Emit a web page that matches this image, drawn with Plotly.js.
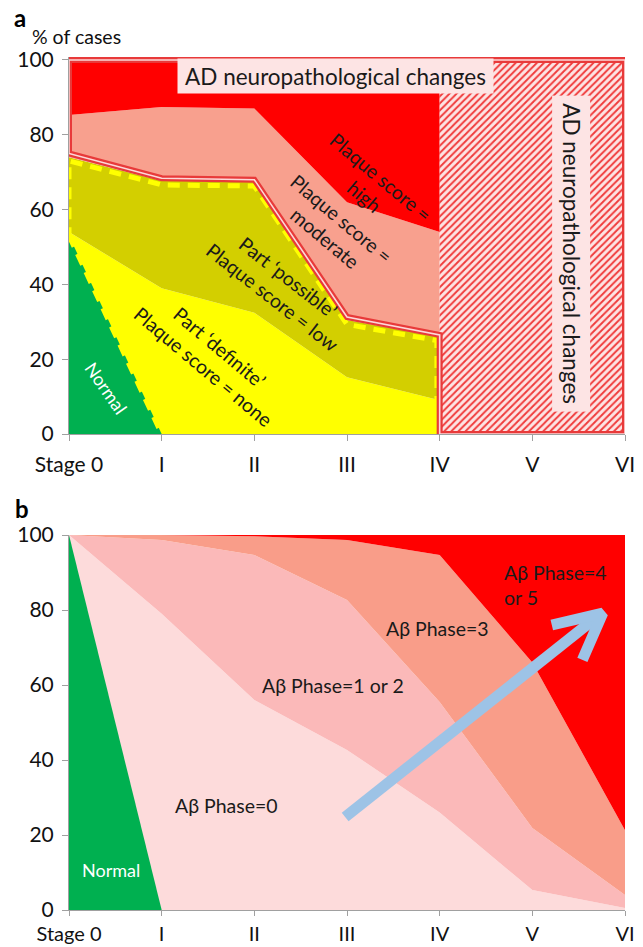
<!DOCTYPE html>
<html><head><meta charset="utf-8">
<script src="https://cdn.plot.ly/plotly-3.0.1.min.js"></script>
<style>html,body{margin:0;padding:0;background:#fff}#chart{width:643px;height:947px}</style>
</head><body><div id="chart"></div>
<script>
// ---- shared ----
const stages = ['Stage 0','I','II','III','IV','V','VI'];
const stageIdx = [0,1,2,3,4,5,6];

// ---- panel a (cumulative upper boundaries, % of cases) ----
const aX = [0,1,2,3,4];
const aNormalX = [0,1];
const aNormalY = [53,0];
const aDefiniteTop = [54,39,32.4,15.2,9];
const aPossibleTop = [74,67.7,67.5,30.5,26];
const aModerateTop = [85.3,87.4,87,62,54];
const aHighTop = [100,100,100,100,100];
const aHatchX = [4,6,6,4,4];
const aHatchY = [0,0,100,100,0];
const adOutlineX = [0,0,6,6,4,4,3,2,1,0];
const adOutlineY = [75,100,100,0,0,26.5,31.3,68,68.4,75];
const partOutlineX = [0,1,3.97,3.97,3,2,1,0,0];
const partOutlineY = [53,0,0,25,29.3,66.3,66.6,73,53];

// ---- panel b ----
const bX = [0,1,2,3,4,5,6];
const bNormalX = [0,1];
const bNormalY = [100,0];
const bPhase0Top = [100,79,56,42.7,26,5.3,0.5];
const bPhase12Top = [100,98.7,94.7,82.7,55.5,21.9,4];
const bPhase3Top = [100,100,99.7,98.7,94.7,66,21.3];
const bPhase45Top = [100,100,100,100,100,100,100];
const arrowShaftX = [2.98,5.72];
const arrowShaftY = [24.8,78.6];
const arrowHeadX = [5.21,5.76,5.54];
const arrowHeadY = [76,79.2,66.7];

const FONT = 'Lato, "Open Sans", sans-serif';
const TXT = '#1a1a1a';

function area(x,y,fill,color,xa,ya){
  return {x:x,y:y,type:'scatter',mode:'lines',fill:fill,fillcolor:color,
    line:{width:0,color:color},xaxis:xa,yaxis:ya,hoverinfo:'skip',showlegend:false};
}
function line(x,y,color,width,dash,xa,ya){
  return {x:x,y:y,type:'scatter',mode:'lines',line:{color:color,width:width,dash:dash||'solid'},
    xaxis:xa,yaxis:ya,hoverinfo:'skip',showlegend:false};
}

const traces = [
  area(aX,aDefiniteTop,'tozeroy','#ffff00','x','y'),
  area(aX,aPossibleTop,'tonexty','#d3cf00','x','y'),
  area(aX,aModerateTop,'tonexty','#f8a08e','x','y'),
  area(aX,aHighTop,'tonexty','#ff0000','x','y'),
  area(aNormalX,aNormalY,'tozeroy','#00b050','x','y'),
  {x:aHatchX,y:aHatchY,type:'scatter',mode:'lines',fill:'toself',fillcolor:'#fde4e4',
   fillpattern:{shape:'/',fgcolor:'#f03a3a',bgcolor:'#fde4e4',size:5,solidity:0.38},
   line:{width:0},xaxis:'x',yaxis:'y',hoverinfo:'skip',showlegend:false},
  line(partOutlineX,partOutlineY,'#ffff00',5,'12px,8px','x','y'),
  line(adOutlineX,adOutlineY,'#e83a3a',6,null,'x','y'),
  line(adOutlineX,adOutlineY,'#fcd8d8',1.6,null,'x','y'),

  area(bX,bPhase0Top,'tozeroy','#fddbdb','x2','y2'),
  area(bX,bPhase12Top,'tonexty','#fbb9b9','x2','y2'),
  area(bX,bPhase3Top,'tonexty','#f99d89','x2','y2'),
  area(bX,bPhase45Top,'tonexty','#ff0000','x2','y2'),
  area(bNormalX,bNormalY,'tozeroy','#00b050','x2','y2'),
  line(arrowShaftX,arrowShaftY,'#9dc3e6',11,null,'x2','y2'),
  line(arrowHeadX,arrowHeadY,'#9dc3e6',11,null,'x2','y2')
];

const xCommon = {range:[0,6],tickvals:stageIdx,ticktext:stages,showgrid:false,zeroline:false,
  showline:true,linecolor:'#a0a0a0',linewidth:1,ticks:'outside',ticklen:6,tickcolor:'#a0a0a0',
  ticklabelstandoff:6,
  tickfont:{family:FONT,size:21,color:'#111'},fixedrange:true};
const yCommon = {tickvals:[0,20,40,60,80,100],showgrid:false,zeroline:false,
  showline:true,linecolor:'#a0a0a0',linewidth:1,ticks:'outside',ticklen:6,tickcolor:'#a0a0a0',
  ticklabelstandoff:4,
  tickfont:{family:FONT,size:21,color:'#111'},fixedrange:true};

function ann(text,x,y,ref,angle,size,color,extra){
  return Object.assign({text:text,x:x,y:y,xref:ref[0],yref:ref[1],showarrow:false,
    xanchor:'center',yanchor:'middle',
    textangle:angle,align:'center',font:{family:FONT,size:size,color:color}},extra||{});
}
const A = ['x','y'], B = ['x2','y2'], P = ['paper','paper'];
const S = 19.5;

const annotations = [
  ann('a',-0.088,1.046,P,0,24,'#000',{font:{family:FONT,size:24,color:'#000',weight:'bold'}}),
  ann('b',-0.084,0.471,P,0,24,'#000',{font:{family:FONT,size:24,color:'#000',weight:'bold'}}),
  ann('% of cases',0.0126,1.024,P,0,19.5,'#111'),
  ann('AD neuropathological changes',2.88,95.7,A,0,22.5,TXT,{bgcolor:'#fde4e4',width:313,height:32,borderpad:1}),
  ann('AD neuropathological changes',5.42,48.3,A,90,22.5,TXT,{bgcolor:'#fde4e4',width:313,height:35,borderpad:1}),
  ann('Plaque score =<br>high',3.28,66,A,40,S,TXT),
  ann('Plaque score =<br>moderate',2.85,55.1,A,40,S,TXT),
  ann('Part ‘possible’<br>Plaque score = low',2.28,39.3,A,38,S,TXT),
  ann('Part ‘definite’<br>Plaque score = none',1.54,20.6,A,40,S,TXT),
  ann('Normal',0.40,12.3,A,55,18,'#ffffff'),

  ann('Aβ Phase=4<br>or 5',4.67,86.7,B,0,S,TXT,{xanchor:'left',align:'left'}),
  ann('Aβ Phase=3',3.98,75.2,B,0,S,TXT),
  ann('Aβ Phase=1 or 2',2.85,60,B,0,S,TXT),
  ann('Aβ Phase=0',1.70,28,B,0,S,TXT),
  ann('Normal',0.45,10.7,B,0,18,'#ffffff')
];

const layout = {
  width:643,height:947,
  margin:{l:69,r:18,t:57,b:37},
  paper_bgcolor:'#ffffff',plot_bgcolor:'rgba(0,0,0,0)',
  showlegend:false,hovermode:false,
  xaxis:Object.assign({},xCommon,{anchor:'y'}),
  yaxis:Object.assign({},yCommon,{range:[0,100.8],domain:[0.558,1],anchor:'x'}),
  xaxis2:Object.assign({},xCommon,{anchor:'y2',ticklabelstandoff:1,ticklen:5,
    tickfont:{family:FONT,size:20,color:'#111'}}),
  yaxis2:Object.assign({},yCommon,{range:[0,100],domain:[0,0.4396],anchor:'x2'}),
  annotations:annotations
};

Plotly.newPlot('chart',traces,layout,{displayModeBar:false,staticPlot:true});
</script></body></html>
